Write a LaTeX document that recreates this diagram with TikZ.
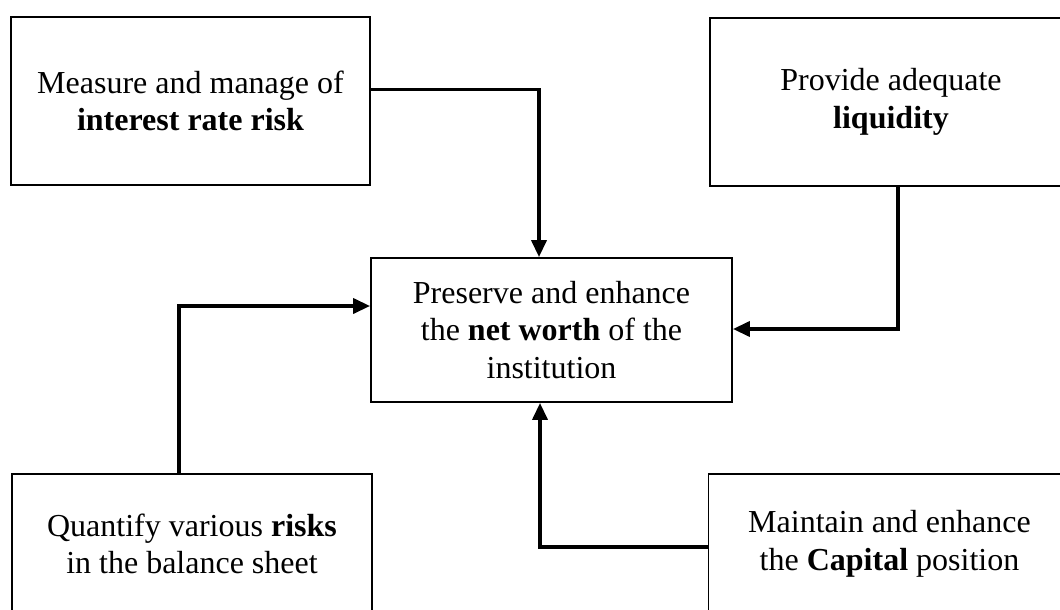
\documentclass[tikz,border=0pt]{standalone}
\usepackage{fontspec}
\setmainfont{Liberation Serif}
\usetikzlibrary{arrows.meta}
\begin{document}
\begin{tikzpicture}[x=1pt, y=-1pt,
  goalbox/.style={draw, line width=1.8pt, rectangle, inner sep=0pt, align=center,
    font=\fontsize{32}{37.5}\selectfont},
  link/.style={line width=3.6pt, -{Triangle[length=17pt,width=15pt]}}]
  \useasboundingbox (0,0) rectangle (1060,610);
  \clip (0,0) rectangle (1060,610);
  \fill[white] (0,0) rectangle (1060,610);

  % the five goals
  \node[goalbox, minimum width=359pt, minimum height=168pt] (tl) at (190.5,101)
    {Measure and manage of\\\textbf{interest rate risk}};
  \node[goalbox, minimum width=362pt, minimum height=168pt] (tr) at (891,102)
    {Provide adequate\\\textbf{liquidity}};
  \node[goalbox, minimum width=361pt, minimum height=144pt] (c) at (551.5,330)
    {Preserve and enhance\\the \textbf{net worth} of the\\institution};
  \node[goalbox, minimum width=360pt, minimum height=140pt] (bl) at (192,544)
    {Quantify various \textbf{risks}\\in the balance sheet};
  \node[goalbox, minimum width=362pt, minimum height=140pt] (br) at (889.5,544)
    {Maintain and enhance\\the \textbf{Capital} position};

  % bends of the connectors
  \coordinate (k1) at (539,89.5);
  \coordinate (k2) at (898,329);
  \coordinate (k3) at (179,306);
  \coordinate (k4) at (540,547);

  \draw[link] (tl.east |- k1) -- (k1) -- (k1 |- c.north);
  \draw[link] (tr.south -| k2) -- (k2) -- (k2 -| c.east);
  \draw[link] (bl.north -| k3) -- (k3) -- (k3 -| c.west);
  \draw[link] (br.west |- k4) -- (k4) -- (k4 |- c.south);
\end{tikzpicture}
\end{document}
